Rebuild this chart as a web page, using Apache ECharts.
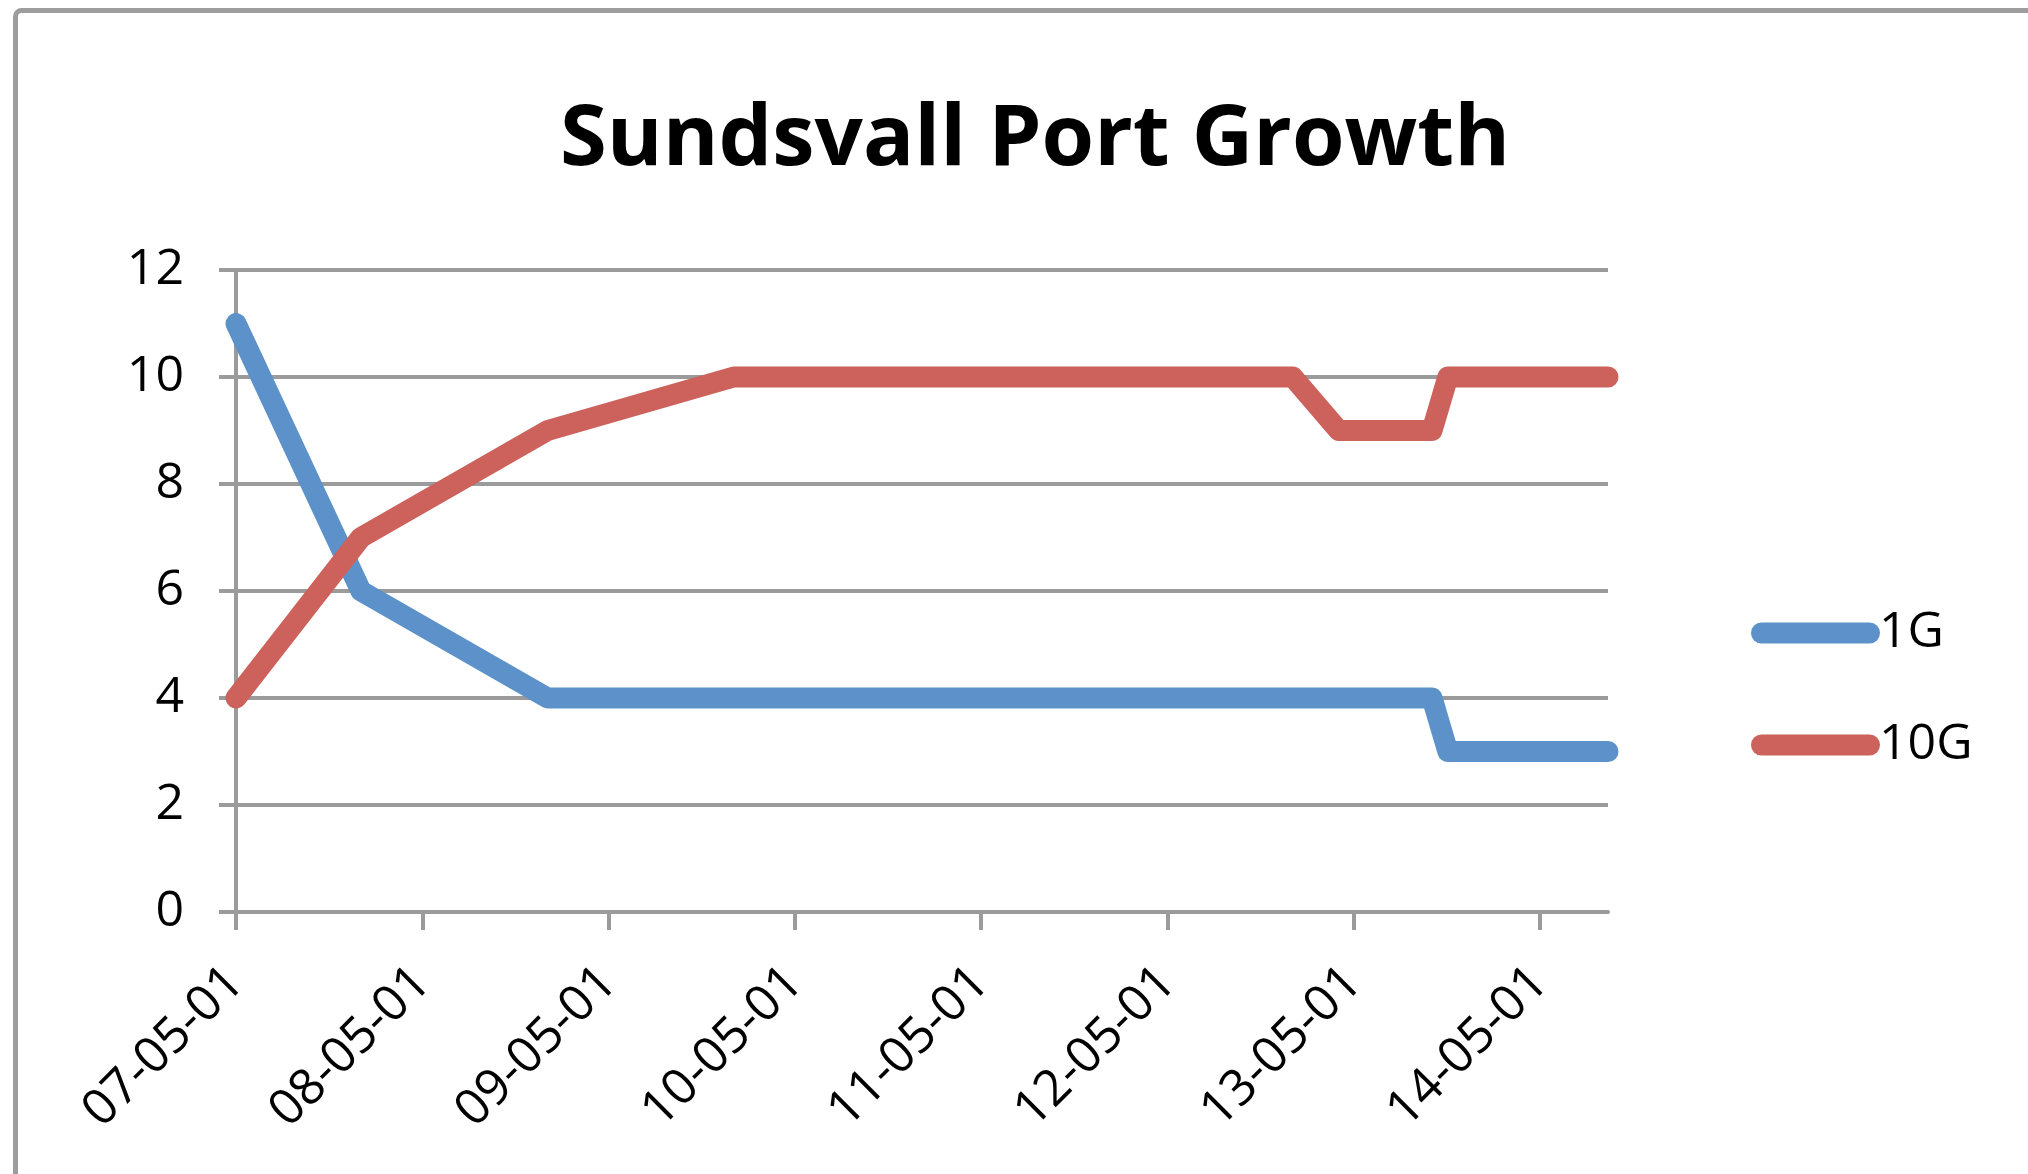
<!DOCTYPE html>
<html>
<head>
<meta charset="utf-8">
<title>Sundsvall Port Growth</title>
<script src="https://cdn.jsdelivr.net/npm/echarts@6/dist/echarts.min.js"></script>
<style>
  html, body { margin: 0; padding: 0; background: #fff; }
  #chart { width: 2028px; height: 1174px; }
</style>
</head>
<body>
<div id="chart"></div>
<script>
var titleText = 'Sundsvall Port Growth'
var seriesNames = ['1G', '10G']
// observation dates (yyyy-mm-dd)
var dates = ['2007-05-01', '2008-01-01', '2009-01-01', '2010-01-01', '2011-01-01',
  '2012-01-01', '2013-01-01', '2013-04-01', '2013-07-01', '2013-10-01',
  '2013-11-01', '2014-03-01', '2014-06-01', '2014-09-11']
var oneG = [11, 6, 4, 4, 4, 4, 4, 4, 4, 4, 3, 3, 3, 3]
var tenG = [4, 7, 9, 10, 10, 10, 10, 9, 9, 9, 10, 10, 10, 10]
// yearly tick labels on the date axis
var tickDates = ['2007-05-01', '2008-05-01', '2009-05-01', '2010-05-01',
  '2011-05-01', '2012-05-01', '2013-05-01', '2014-05-01']
var colors = ['#5c92c9', '#cc625b']
var gridColor = '#9b9b9b'
var font = '"Open Sans", "Noto Sans", sans-serif'

function toTime(s) {
  var p = s.split('-')
  return Date.UTC(+p[0], +p[1] - 1, +p[2])
}
function pad(n) {
  return (n < 10 ? '0' : '') + n
}
function fmt(v) {
  var d = new Date(v)
  return pad(d.getUTCFullYear() % 100) + '-' + pad(d.getUTCMonth() + 1) + '-' + pad(d.getUTCDate())
}

var times = dates.map(toTime)
var tickTimes = tickDates.map(toTime)

var myChart = echarts.init(document.getElementById('chart'), null, {renderer: 'canvas'})
var option = {
  backgroundColor: '#fff',
  animation: false,
  title: {
    text: titleText,
    left: 560,
    top: 98,
    padding: 0,
    textStyle: {
      fontFamily: font,
      fontWeight: 'bold',
      fontSize: 85,
      color: '#000'
    }
  },
  graphic: [{
    type: 'rect',
    z: -1,
    shape: {x: 15.5, y: 10.5, width: 2100, height: 1300, r: 6},
    style: {fill: 'none', stroke: '#9d9d9d', lineWidth: 5}
  }],
  legend: {
    orient: 'vertical',
    left: 1751,
    top: 608,
    padding: 0,
    itemWidth: 129,
    itemHeight: 21,
    itemGap: 62,
    icon: 'path://M10.5,0 H118.5 A10.5,10.5 0 0 1 118.5,21 H10.5 A10.5,10.5 0 0 1 10.5,0 Z',
    textStyle: {
      fontFamily: font,
      fontSize: 50,
      color: '#000',
      padding: [0, 0, 0, -6]
    },
    data: seriesNames
  },
  grid: {
    left: 236,
    right: 420,
    top: 270,
    bottom: 262,
    containLabel: false
  },
  xAxis: {
    type: 'value',
    min: times[0],
    max: times[times.length - 1],
    axisLine: {
      onZero: false,
      lineStyle: {color: gridColor, width: 4}
    },
    axisTick: {
      show: true,
      length: 18,
      customValues: tickTimes,
      lineStyle: {color: gridColor, width: 4}
    },
    axisLabel: {
      customValues: tickTimes,
      rotate: 45,
      margin: 63,
      fontFamily: font,
      fontSize: 50,
      color: '#000',
      formatter: function(v) {
        return fmt(v)
      }
    },
    splitLine: {show: false}
  },
  yAxis: {
    type: 'value',
    min: 0,
    max: 12,
    interval: 2,
    axisLine: {
      show: true,
      lineStyle: {color: gridColor, width: 4}
    },
    axisTick: {
      show: true,
      length: 17,
      lineStyle: {color: gridColor, width: 4}
    },
    axisLabel: {
      margin: 52,
      fontFamily: font,
      fontSize: 50,
      color: '#000'
    },
    splitLine: {
      show: true,
      lineStyle: {color: gridColor, width: 4}
    }
  },
  series: [
    {
      name: seriesNames[0],
      type: 'line',
      data: times.map(function(t, i) { return [t, oneG[i]] }),
      showSymbol: false,
      symbol: 'none',
      color: colors[0],
      lineStyle: {width: 21, color: colors[0], cap: 'round', join: 'round'},
      z: 3
    },
    {
      name: seriesNames[1],
      type: 'line',
      data: times.map(function(t, i) { return [t, tenG[i]] }),
      showSymbol: false,
      symbol: 'none',
      color: colors[1],
      lineStyle: {width: 21, color: colors[1], cap: 'round', join: 'round'},
      z: 4
    }
  ]
}
myChart.setOption(option)
</script>
</body>
</html>
